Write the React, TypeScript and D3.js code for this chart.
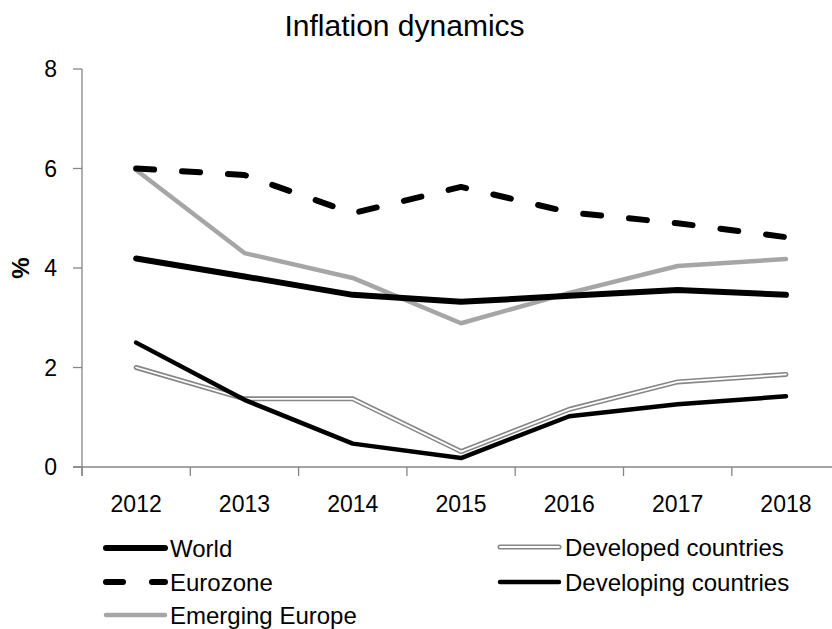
import React from "react";
import * as d3 from "d3";

const years = ["2012", "2013", "2014", "2015", "2016", "2017", "2018"];
const world = [4.19, 3.83, 3.46, 3.32, 3.44, 3.56, 3.46];
const eurozone = [6.0, 5.87, 5.1, 5.63, 5.12, 4.9, 4.62];
const emergingEurope = [5.97, 4.3, 3.8, 2.89, 3.5, 4.04, 4.18];
const developed = [2.0, 1.37, 1.37, 0.31, 1.16, 1.71, 1.86];
const developing = [2.5, 1.35, 0.47, 0.18, 1.02, 1.26, 1.42];
const yTicks = [0, 2, 4, 6, 8];

const W = 832;
const H = 629;
const FONT = "'Liberation Sans', Arial, sans-serif";

export default function App() {
  const x = d3.scaleBand<string>().domain(years).range([82, 82 + 7 * 108.3]).padding(0);
  const y = d3.scaleLinear().domain([0, 8]).range([467, 69]);
  const cx = (i: number) => (x(years[i]) as number) + x.bandwidth() / 2;
  const line = d3
    .line<number>()
    .x((_, i) => cx(i))
    .y((d) => y(d));

  const axisColor = "#868686";
  const common = { fill: "none", strokeLinecap: "round" as const, strokeLinejoin: "round" as const };

  const legendLine = (x1: number, x2: number, yy: number, kind: string) => {
    if (kind === "world")
      return <line x1={x1} x2={x2} y1={yy} y2={yy} stroke="#000" strokeWidth={6} strokeLinecap="round" />;
    if (kind === "euro")
      return (
        <line x1={x1} x2={x2} y1={yy} y2={yy} stroke="#000" strokeWidth={6} strokeLinecap="round" strokeDasharray="17,29" />
      );
    if (kind === "emerging")
      return <line x1={x1} x2={x2} y1={yy} y2={yy} stroke="#a6a6a6" strokeWidth={4.5} strokeLinecap="round" />;
    if (kind === "developed")
      return (
        <g>
          <line x1={x1} x2={x2} y1={yy} y2={yy} stroke="#868686" strokeWidth={5} strokeLinecap="round" />
          <line x1={x1} x2={x2} y1={yy} y2={yy} stroke="#fff" strokeWidth={1.8} strokeLinecap="round" />
        </g>
      );
    return <line x1={x1} x2={x2} y1={yy} y2={yy} stroke="#000" strokeWidth={4.5} strokeLinecap="round" />;
  };

  const legend = [
    { label: "World", kind: "world", lx: 103, tx: 170, ly: 548 },
    { label: "Eurozone", kind: "euro", lx: 103, tx: 170, ly: 582 },
    { label: "Emerging Europe", kind: "emerging", lx: 103, tx: 170, ly: 615 },
    { label: "Developed countries", kind: "developed", lx: 497, tx: 565, ly: 547 },
    { label: "Developing countries", kind: "developing", lx: 497, tx: 565, ly: 582 },
  ];

  return (
    <svg
      width={W}
      height={H}
      style={{ position: "absolute", left: 0, top: 0, background: "#fff" }}
      fontFamily={FONT}
    >
      <rect x={0} y={0} width={W} height={H} fill="#fff" />
      <text x={404.5} y={36} textAnchor="middle" fontSize={30} fill="#000">
        Inflation dynamics
      </text>

      {/* y axis */}
      <line x1={82} x2={82} y1={y(8)} y2={y(0) + 9} stroke={axisColor} strokeWidth={1.3} />
      {yTicks.map((t) => (
        <g key={t}>
          <line x1={73} x2={82} y1={y(t)} y2={y(t)} stroke={axisColor} strokeWidth={1.3} />
          <text x={57} y={y(t)} dy="0.36em" textAnchor="end" fontSize={23} fill="#000">
            {t}
          </text>
        </g>
      ))}
      <text
        transform={`translate(21,268) rotate(-90)`}
        textAnchor="middle"
        dy="0.35em"
        fontSize={24}
        fontWeight="bold"
        fill="#000"
      >
        %
      </text>

      {/* x axis */}
      <line x1={73} x2={W} y1={y(0)} y2={y(0)} stroke={axisColor} strokeWidth={1.3} />
      {years.map((yr, i) => (
        <g key={yr}>
          <line
            x1={x(yr) as number}
            x2={x(yr) as number}
            y1={y(0)}
            y2={y(0) + 9}
            stroke={axisColor}
            strokeWidth={1.3}
          />
          <text x={cx(i)} y={504} dy="0.36em" textAnchor="middle" fontSize={23} fill="#000">
            {yr}
          </text>
        </g>
      ))}

      {/* series */}
      <path d={line(developed) as string} stroke="#868686" strokeWidth={5} {...common} />
      <path d={line(developed) as string} stroke="#fff" strokeWidth={1.8} {...common} />
      <path d={line(developing) as string} stroke="#000" strokeWidth={4.5} {...common} />
      <path d={line(emergingEurope) as string} stroke="#a6a6a6" strokeWidth={4.5} {...common} />
      <path d={line(world) as string} stroke="#000" strokeWidth={6} {...common} />
      <path d={line(eurozone) as string} stroke="#000" strokeWidth={6} strokeDasharray="18,28" {...common} />

      {/* legend */}
      {legend.map((l) => (
        <g key={l.label}>
          {legendLine(l.lx + 3, l.lx + 62, l.ly, l.kind)}
          <text x={l.tx} y={l.ly} dy="0.36em" fontSize={24} fill="#000">
            {l.label}
          </text>
        </g>
      ))}
    </svg>
  );
}
